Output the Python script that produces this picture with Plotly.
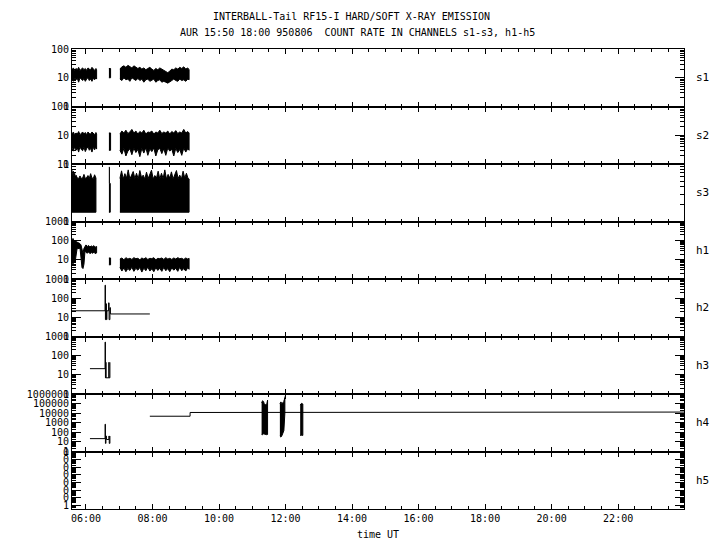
import plotly.graph_objects as go
from plotly.subplots import make_subplots

# ---------------- data (time in decimal hours UT, count rates) ----------------
hour_ticks = [6, 8, 10, 12, 14, 16, 18, 20, 22]
hour_labels = ["06:00", "08:00", "10:00", "12:00", "14:00", "16:00", "18:00", "20:00", "22:00"]
panel_names = ["s1", "s2", "s3", "h1", "h2", "h3", "h4", "h5"]

# s1 noisy bands (upper / lower envelope)
s1_a_t = [5.58, 5.62, 5.66, 5.70, 5.74, 5.78, 5.82, 5.86, 5.90, 5.94, 5.98, 6.02, 6.06, 6.10, 6.14, 6.18, 6.22, 6.26, 6.30, 6.32]
s1_a_hi = [19, 22, 18, 21, 19, 23, 18, 20, 22, 19, 21, 18, 22, 20, 19, 23, 20, 18, 21, 19]
s1_a_lo = [9, 7.5, 10, 8.5, 9.5, 7, 10, 9, 8, 9.5, 7.5, 9, 10, 8, 9, 7.5, 9.5, 8.5, 10, 9]
s1_b_t = [6.69, 6.74]
s1_b_hi = [21, 21]
s1_b_lo = [10, 10]
s1_c_t = [7.02, 7.08, 7.14, 7.20, 7.26, 7.32, 7.38, 7.44, 7.50, 7.56, 7.62, 7.68, 7.74, 7.80, 7.86, 7.92, 7.98, 8.04,
          8.10, 8.16, 8.22, 8.28, 8.34, 8.40, 8.46, 8.52, 8.58, 8.64, 8.70, 8.76, 8.82, 8.88, 8.94, 9.00, 9.06, 9.10]
s1_c_hi = [20, 24, 26, 23, 27, 25, 22, 26, 24, 21, 23, 20, 22, 19, 21, 23, 20, 18, 21, 19, 22, 20, 18, 17, 15, 17,
           20, 19, 22, 20, 23, 21, 24, 20, 22, 19]
s1_c_lo = [9, 8, 10, 8.5, 9, 7.5, 10, 9, 8, 9.5, 8, 9, 7, 8.5, 9, 7.5, 8, 9, 7, 8, 8.5, 7, 7.5, 7, 6.5, 7, 8, 9, 8,
           7.5, 9, 8, 8.5, 7.5, 9, 8.5]

# s2
s2_a_t = s1_a_t
s2_a_hi = [11, 13, 10.5, 12, 11, 13.5, 10.5, 12, 13, 11, 12.5, 10.5, 13, 11.5, 11, 13, 12, 10.5, 12.5, 11]
s2_a_lo = [3.5, 2.8, 4, 3, 3.6, 2.6, 4, 3.2, 2.9, 3.8, 2.7, 3.4, 4, 3, 3.5, 2.6, 3.8, 3.1, 4, 3.3]
s2_b_t = [6.69, 6.74]
s2_b_hi = [12, 12]
s2_b_lo = [3, 3]
s2_c_t = s1_c_t
s2_c_hi = [11, 14, 12, 15, 11.5, 13, 16, 12, 14, 11, 13.5, 12, 15, 11, 13, 12.5, 14, 11, 13, 12, 15, 11.5, 13, 12,
           14, 11, 13.5, 12, 14.5, 11.5, 13, 12, 16, 12, 13.5, 12]
s2_c_lo = [3, 2.2, 3.5, 1.9, 2.8, 3.4, 2.1, 3.6, 2.5, 3.2, 1.8, 3.5, 2.4, 3.7, 2.0, 3.3, 2.7, 3.6, 1.9, 3.1, 3.5,
           2.3, 3.4, 2.0, 3.6, 2.8, 3.3, 1.9, 3.5, 2.5, 3.2, 2.0, 3.6, 2.6, 3.4, 3.0]

# s3 (bands sitting on a flat floor)
s3_floor = 1.45
s3_a_t = [5.58, 5.60, 5.62, 5.64, 5.66, 5.68, 5.70, 5.74, 5.78, 5.82, 5.86, 5.90, 5.94, 5.98, 6.02, 6.06, 6.10,
          6.14, 6.18, 6.22, 6.26, 6.30]
s3_a_hi = [7.8, 5.8, 7.5, 5.7, 6.9, 5.6, 6.4, 5.7, 5.6, 6.2, 5.6, 5.7, 6.6, 5.6, 5.8, 6.3, 5.6, 6.8, 5.7, 5.6,
           6.5, 5.7]
s3_b_t = [6.69, 6.705, 6.705, 6.73]
s3_b_hi = [8.8, 8.8, 4.6, 4.6]
s3_c_t = [7.02, 7.07, 7.12, 7.17, 7.22, 7.27, 7.32, 7.37, 7.42, 7.47, 7.52, 7.57, 7.62, 7.67, 7.72, 7.77, 7.82,
          7.87, 7.92, 7.97, 8.02, 8.07, 8.12, 8.17, 8.22, 8.27, 8.32, 8.37, 8.42, 8.47, 8.52, 8.57, 8.62, 8.67,
          8.72, 8.77, 8.82, 8.87, 8.92, 8.97, 9.02, 9.07, 9.10]
s3_c_hi = [5.6, 7.6, 5.5, 6.8, 5.7, 7.9, 5.5, 6.5, 7.4, 5.6, 6.9, 5.5, 7.7, 5.8, 6.4, 5.5, 7.2, 5.6, 6.7, 7.8,
           5.5, 6.3, 5.7, 7.5, 5.5, 6.9, 5.6, 7.9, 5.5, 6.6, 5.7, 7.3, 5.5, 6.8, 7.7, 5.6, 6.4, 5.5, 7.5, 5.7,
           6.9, 5.6, 5.5]

# h1
h1_a_t = [5.58, 5.61, 5.64, 5.67, 5.70, 5.73, 5.76, 5.79, 5.82, 5.85, 5.88, 5.91, 5.94, 5.97, 6.00, 6.04, 6.08,
          6.12, 6.16, 6.20, 6.24, 6.28, 6.32]
h1_a_hi = [110, 130, 95, 105, 90, 85, 80, 75, 70, 60, 35, 22, 40, 55, 60, 50, 56, 47, 53, 49, 55, 46, 50]
h1_a_lo = [9, 6, 11, 7, 10, 36, 40, 38, 42, 12, 4, 3.5, 6, 28, 25, 22, 26, 21, 24, 22, 25, 21, 23]
h1_b_t = [6.69, 6.74]
h1_b_hi = [12.5, 12.5]
h1_b_lo = [5.5, 5.5]
h1_c_t = s1_c_t
h1_c_hi = [11, 12.5, 10, 13, 11, 12, 10.5, 13, 11.5, 12, 10, 12.5, 11, 13, 10.5, 12, 11.5, 13, 10, 12, 11.5, 12.5,
           10.5, 13, 11, 12, 10.5, 12.5, 11, 13, 11.5, 12, 10.5, 12.5, 11, 12]
h1_c_lo = [4, 2.6, 3.8, 2.4, 3.5, 2.8, 4.1, 2.5, 3.6, 2.9, 4, 2.3, 3.7, 2.7, 4.2, 2.6, 3.4, 2.4, 3.9, 2.8, 3.6,
           2.5, 4, 2.7, 3.5, 2.4, 3.8, 2.9, 3.6, 2.5, 4.1, 2.7, 3.5, 2.6, 3.9, 3.2]

# h2 step trace
h2_t = [5.58, 6.575, 6.575, 6.585, 6.585, 6.60, 6.60, 6.615, 6.615, 6.63, 6.63, 6.68, 6.68, 6.695, 6.695, 6.72,
        6.72, 6.735, 6.735, 7.92]
h2_v = [22, 22, 475, 475, 7.6, 7.6, 51, 51, 7.6, 7.6, 22, 22, 57, 57, 7.6, 7.6, 32, 32, 15, 15]

# h3 step trace
h3_t = [6.12, 6.575, 6.575, 6.585, 6.585, 6.60, 6.60, 6.60, 6.69, 6.69, 6.69, 6.72, 6.72]
h3_v = [21, 21, 510, 510, 7, 7, 45, 7, 7, 45, 7, 7, 45]

# h4 step traces and burst clusters
h4_a_t = [6.12, 6.575, 6.575, 6.585, 6.585, 6.60, 6.60, 6.615, 6.615, 6.69, 6.69, 6.70, 6.70, 6.72, 6.72]
h4_a_v = [22, 22, 700, 700, 7, 7, 41, 41, 18, 18, 41, 41, 7, 7, 41]
h4_b_t = [7.92, 9.13, 9.13, 21.98, 21.98, 22.3, 22.3, 22.4, 22.4, 22.55, 22.55, 22.7, 22.7, 22.85, 22.85, 23.0,
          23.0, 23.15, 23.15, 23.35, 23.35, 23.98]
h4_b_v = [4800, 4800, 11800, 11800, 14000, 14000, 12500, 12500, 14000, 14000, 12500, 12500, 14000, 14000, 12500,
          12500, 14000, 14000, 12500, 12500, 13000, 13000]
h4_c1_t = [11.28, 11.31, 11.34, 11.37, 11.40, 11.43, 11.46]
h4_c1_hi = [1.2e5, 2.0e5, 1.6e5, 7e4, 8e4, 7e4, 2.3e5]
h4_c1_lo = [60, 57, 70, 57, 60, 57, 60]
h4_c2_t = [11.83, 11.86, 11.89, 11.92, 11.95, 11.98]
h4_c2_hi = [9e4, 1.5e5, 1e5, 1.3e5, 1.6e5, 4e5]
h4_c2_lo = [40, 32, 45, 60, 150, 1e4]
h4_c2_tail_t = [11.96, 12.03]
h4_c2_tail_v = [2e5, 2e6]
h4_c3_t = [12.44, 12.48, 12.52]
h4_c3_hi = [7e4, 1.06e5, 9e4]
h4_c3_lo = [48, 50, 48]

# h5: channel carries no data
h5_t = []
h5_v = []

# ---------------- figure ----------------
MONO = "DejaVu Sans Mono"
fig = make_subplots(rows=8, cols=1, shared_xaxes=True, vertical_spacing=0)


def band(t, hi, lo, row):
    fig.add_trace(go.Scatter(x=t + t[::-1], y=hi + lo[::-1], mode="lines", fill="toself",
                             fillcolor="black", line=dict(color="black", width=1),
                             hoverinfo="skip"), row=row, col=1)


def floor_band(t, hi, floor, row):
    fig.add_trace(go.Scatter(x=t + [t[-1], t[0]], y=hi + [floor, floor], mode="lines", fill="toself",
                             fillcolor="black", line=dict(color="black", width=1),
                             hoverinfo="skip"), row=row, col=1)


def line(t, v, row):
    fig.add_trace(go.Scatter(x=t, y=v, mode="lines", line=dict(color="black", width=1),
                             hoverinfo="skip"), row=row, col=1)


band(s1_a_t, s1_a_hi, s1_a_lo, 1)
band(s1_b_t, s1_b_hi, s1_b_lo, 1)
band(s1_c_t, s1_c_hi, s1_c_lo, 1)
band(s2_a_t, s2_a_hi, s2_a_lo, 2)
band(s2_b_t, s2_b_hi, s2_b_lo, 2)
band(s2_c_t, s2_c_hi, s2_c_lo, 2)
floor_band(s3_a_t, s3_a_hi, s3_floor, 3)
floor_band(s3_b_t, s3_b_hi, s3_floor, 3)
floor_band(s3_c_t, s3_c_hi, s3_floor, 3)
band(h1_a_t, h1_a_hi, h1_a_lo, 4)
band(h1_b_t, h1_b_hi, h1_b_lo, 4)
band(h1_c_t, h1_c_hi, h1_c_lo, 4)
line(h2_t, h2_v, 5)
line(h3_t, h3_v, 6)
line(h4_a_t, h4_a_v, 7)
line(h4_b_t, h4_b_v, 7)
band(h4_c1_t, h4_c1_hi, h4_c1_lo, 7)
band(h4_c2_t, h4_c2_hi, h4_c2_lo, 7)
line(h4_c2_tail_t, h4_c2_tail_v, 7)
band(h4_c3_t, h4_c3_hi, h4_c3_lo, 7)
line(h5_t, h5_v, 8)

# y axes: (log range, decades with labels)
y_specs = [
    ([0, 2], [1, 10, 100], ["1", "10", "100"]),
    ([0, 2], [1, 10, 100], ["1", "10", "100"]),
    ([0, 1], [1, 10], ["1", "10"]),
    ([0, 3], [1, 10, 100, 1000], ["1", "10", "100", "1000"]),
    ([0, 3], [1, 10, 100, 1000], ["1", "10", "100", "1000"]),
    ([0, 3], [1, 10, 100, 1000], ["1", "10", "100", "1000"]),
    ([0, 6], [1, 10, 100, 1000, 1e4, 1e5, 1e6], ["1", "10", "100", "1000", "10000", "100000", "1000000"]),
    ([-0.5, 7.1], [1, 10, 100, 1e3, 1e4, 1e5, 1e6, 1e7], ["1", "0", "0", "0", "0", "0", "0", "0"]),
]

tickfont = dict(family=MONO, size=10, color="black")
for i, (rng, tv, tt) in enumerate(y_specs, start=1):
    d0 = int(rng[0]) - 1
    d1 = int(rng[1]) + 1
    minor_vals = [k * 10.0 ** d for d in range(d0, d1) for k in range(2, 10)]
    fig.update_yaxes(type="log", range=rng, tickmode="array", tickvals=tv, ticktext=tt,
                     ticks="inside", ticklen=9, tickwidth=1, tickcolor="black",
                     minor=dict(tickmode="array", tickvals=minor_vals, ticks="inside", ticklen=4,
                                tickwidth=1, tickcolor="black", showgrid=False),
                     showline=True, linecolor="black", linewidth=1, mirror="allticks",
                     showgrid=False, zeroline=False, tickfont=tickfont, row=i, col=1)
    fig.update_xaxes(range=[5.58, 23.98], tickmode="array", tickvals=hour_ticks, ticktext=hour_labels,
                     ticks="inside", ticklen=5, tickwidth=1, tickcolor="black",
                     minor=dict(tickmode="linear", tick0=0, dtick=0.5, ticks="inside", ticklen=3,
                                tickwidth=1, tickcolor="black", showgrid=False),
                     showline=True, linecolor="black", linewidth=1, mirror="allticks",
                     showgrid=False, zeroline=False, tickfont=tickfont, row=i, col=1)

annotations = [
    dict(text="INTERBALL-Tail RF15-I HARD/SOFT X-RAY EMISSION", x=0.4575, y=1.0717),
    dict(text="AUR 15:50 18:00 950806  COUNT RATE IN CHANNELS s1-s3, h1-h5", x=0.4665, y=1.0348),
    dict(text="time UT", x=0.5, y=-0.0565),
]
for a in annotations:
    fig.add_annotation(xref="paper", yref="paper", showarrow=False, xanchor="center", yanchor="middle",
                       font=dict(family=MONO, size=10, color="black"), **a)

for i, name in enumerate(panel_names):
    yc = 1 - (i + 0.5) / 8
    fig.add_annotation(text=name, xref="paper", yref="paper", x=1.0163, y=yc, xanchor="left",
                       yanchor="middle", showarrow=False, font=dict(family=MONO, size=11, color="black"))

# the page body adds an 8 px offset; margins compensate so the plot box lands at x 72-684, y 49-509
fig.update_layout(width=720, height=550, margin=dict(l=64, r=44, t=41, b=49),
                  paper_bgcolor="white", plot_bgcolor="white", showlegend=False)

fig.write_html("out.html")
